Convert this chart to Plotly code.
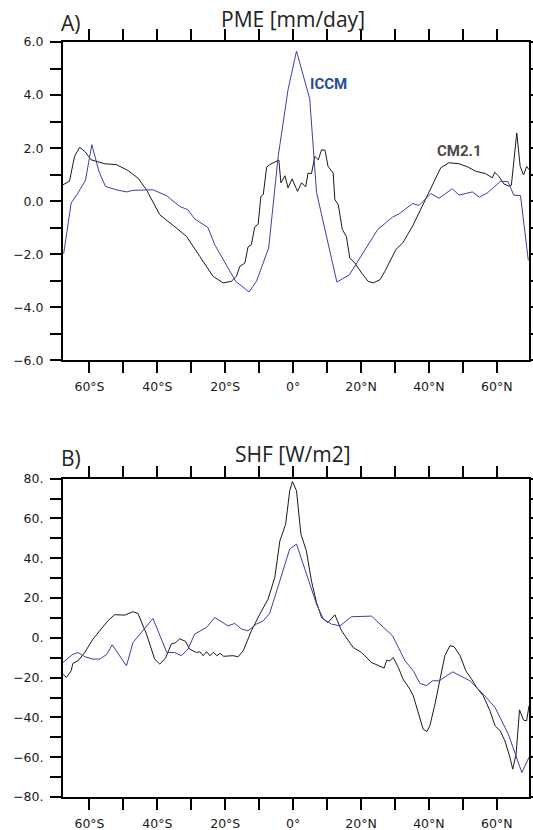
import plotly.graph_objects as go

# --- Panel A: precipitation minus evaporation (mm/day) ---
pme_iccm_lat = [-67.6, -65.4, -63.4, -61.2, -59.3, -57.2, -55.3, -52.1, -49.1, -47.2,
                -41.3, -37.3, -33.4, -31.0, -29.0, -25.1, -23.1, -19.6, -16.9, -13.0,
                -10.8, -7.2, -4.4, -1.5, 1.0, 4.9, 6.9, 12.9, 16.6, 24.9,
                29.3, 31.3, 35.2, 37.1, 40.6, 43.0, 46.9, 48.9, 52.8, 54.9,
                57.2, 61.1, 63.3, 65.0, 67.0, 69.3]
pme_iccm = [-1.98, -0.07, 0.31, 0.78, 2.13, 1.12, 0.56, 0.43, 0.35, 0.41,
            0.43, 0.21, -0.20, -0.32, -0.67, -0.99, -1.64, -2.39, -3.02, -3.42,
            -3.02, -1.76, 1.69, 4.20, 5.66, 3.85, 0.33, -3.05, -2.77, -1.07,
            -0.60, -0.47, -0.09, -0.16, 0.29, 0.11, 0.47, 0.23, 0.35, 0.15,
            0.31, 0.75, 0.74, 0.23, 0.21, -2.23]

pme_cm21_lat = [-67.8, -65.9, -64.4, -62.9, -61.4, -59.5, -55.5, -52.1, -48.7, -45.7,
                -43.2, -39.3, -34.4, -31.4, -27.5, -23.6, -20.6, -18.2, -16.7, -15.7,
                -14.2, -13.3, -12.3, -11.3, -10.3, -9.5, -8.8, -7.8, -6.9, -4.9,
                -4.2, -3.6, -2.4, -1.5, -0.3, 1.3, 2.5, 3.7, 4.4, 5.4,
                6.4, 7.4, 8.4, 9.4, 10.3, 11.8, 12.3, 13.3, 14.5, 15.7,
                16.7, 18.2, 20.2, 22.1, 23.6, 25.6, 27.0, 30.3, 32.3, 35.2,
                38.1, 41.1, 43.5, 45.9, 48.9, 51.3, 53.8, 56.7, 58.7, 59.4,
                60.6, 62.1, 63.5, 64.3, 65.9, 66.9, 67.9, 68.8, 69.5]
pme_cm21 = [0.62, 0.75, 1.69, 2.03, 1.88, 1.56, 1.41, 1.38, 1.16, 0.87,
            0.43, -0.51, -1.01, -1.33, -2.08, -2.83, -3.08, -3.02, -2.83, -2.46,
            -2.33, -1.73, -1.64, -0.97, -0.86, 0.18, 0.25, 1.28, 1.38, 1.50,
            1.55, 0.69, 0.96, 0.50, 0.84, 0.37, 0.69, 0.54, 1.06, 1.04,
            1.69, 1.56, 1.94, 1.92, 1.31, 1.06, 0.06, -0.13, -1.07, -1.33,
            -2.14, -2.33, -2.71, -3.02, -3.08, -2.96, -2.65, -1.82, -1.57, -0.94,
            -0.19, 0.63, 1.26, 1.45, 1.41, 1.30, 1.13, 1.04, 0.88, 1.09,
            0.94, 0.65, 0.57, 0.60, 2.57, 1.31, 0.99, 1.31, 1.19]

# --- Panel B: surface heat flux (W/m2) ---
shf_iccm_lat = [-67.8, -65.1, -63.4, -61.4, -59.0, -57.0, -55.0, -53.3, -49.1, -47.2,
                -41.3, -37.2, -34.9, -32.9, -31.0, -29.0, -25.5, -23.1, -19.2, -17.2,
                -15.2, -13.3, -10.8, -8.8, -6.9, -1.0, 1.0, 6.9, 8.9, 11.3,
                13.8, 17.2, 23.1, 29.3, 33.0, 35.4, 37.4, 39.4, 41.1, 43.1,
                47.0, 52.1, 56.0, 59.5, 63.4, 67.4, 69.5]
shf_iccm = [-12.4, -8.5, -7.4, -9.5, -10.7, -10.7, -8.5, -3.5, -14.1, -2.4,
            9.7, -7.4, -7.4, -9.0, -5.7, 1.9, 5.2, 10.2, 6.0, 7.2,
            4.4, 3.5, 6.9, 8.5, 12.3, 44.6, 47.1, 16.9, 9.4, 6.9,
            6.0, 10.6, 10.9, 1.0, -11.6, -16.6, -23.0, -24.0, -21.6, -21.6,
            -17.1, -21.6, -28.3, -35.0, -48.4, -67.7, -60.0]

shf_cm21_lat = [-67.8, -66.8, -65.4, -64.9, -63.4, -61.4, -59.0, -56.5, -54.6, -52.6,
                -49.6, -47.2, -45.7, -43.2, -40.8, -39.3, -37.6, -35.9, -34.6, -33.4,
                -32.2, -31.7, -30.5, -28.5, -27.5, -26.5, -25.5, -24.5, -23.5, -22.5,
                -21.5, -20.5, -17.7, -16.2, -14.7, -12.3, -9.8, -7.4, -5.4, -3.9,
                -2.2, -1.0, -0.2, 1.0, 2.3, 3.9, 5.4, 6.9, 8.4, 10.3,
                12.3, 14.3, 17.7, 20.2, 23.1, 25.6, 26.8, 27.6, 28.5, 29.5,
                31.0, 32.4, 34.4, 35.4, 36.9, 38.3, 39.4, 40.3, 41.8, 43.3,
                44.7, 46.2, 47.4, 49.2, 50.9, 52.6, 54.1, 56.0, 58.0, 59.5,
                61.0, 62.4, 63.9, 64.7, 65.7, 66.7, 67.9, 68.8, 69.5]
shf_cm21 = [-18.3, -20.0, -16.6, -12.9, -11.6, -7.4, -0.7, 4.4, 8.5, 11.6,
            11.4, 13.1, 12.2, 1.9, -10.7, -13.2, -10.2, -3.2, -2.4, -0.5,
            -1.5, -1.8, -5.7, -7.4, -7.0, -9.0, -7.0, -9.0, -7.2, -9.0,
            -7.8, -9.3, -9.0, -9.5, -6.5, 3.5, 11.9, 19.4, 30.3, 48.7,
            57.1, 73.9, 78.5, 73.9, 52.1, 43.7, 28.6, 17.7, 10.2, 7.7,
            11.6, 3.5, -4.9, -7.4, -12.4, -14.1, -15.2, -11.2, -11.6, -9.9,
            -14.9, -20.8, -25.8, -29.1, -38.3, -45.9, -47.1, -44.2, -33.3, -19.9,
            -9.0, -4.0, -4.4, -9.0, -16.6, -20.8, -25.0, -29.1, -36.7, -44.2,
            -46.7, -51.8, -60.2, -66.0, -58.5, -36.2, -41.4, -41.7, -34.2]

# --- Axis ticks ---
lat_ticks = [-60, -50, -40, -30, -20, -10, 0, 10, 20, 30, 40, 50, 60]
lat_labels = ["60°S", "", "40°S", "", "20°S", "", "0°", "", "20°N", "", "40°N", "", "60°N"]
pme_ticks = [-6, -5, -4, -3, -2, -1, 0, 1, 2, 3, 4, 5, 6]
pme_labels = ["\u22126.0", "", "\u22124.0", "", "\u22122.0", "", "0.0", "", "2.0", "", "4.0", "", "6.0"]
shf_ticks = [-80, -70, -60, -50, -40, -30, -20, -10, 0, 10, 20, 30, 40, 50, 60, 70, 80]
shf_labels = ["\u221280.", "", "\u221260.", "", "\u221240.", "", "\u221220.", "", "0.",
              "", "20.", "", "40.", "", "60.", "", "80."]

BLUE = "#3c3fa6"
BLACK = "#1a1a1a"
TICK_FONT = dict(family="DejaVu Sans", size=12.5, color="#1a1a1a")
TITLE_FONT = dict(family="Open Sans", size=21, color="#222222")

fig = go.Figure()
fig.add_trace(go.Scatter(x=pme_cm21_lat, y=pme_cm21, mode="lines",
                         line=dict(color=BLACK, width=1), xaxis="x", yaxis="y"))
fig.add_trace(go.Scatter(x=pme_iccm_lat, y=pme_iccm, mode="lines",
                         line=dict(color=BLUE, width=1), xaxis="x", yaxis="y"))
fig.add_trace(go.Scatter(x=shf_cm21_lat, y=shf_cm21, mode="lines",
                         line=dict(color=BLACK, width=1), xaxis="x2", yaxis="y2"))
fig.add_trace(go.Scatter(x=shf_iccm_lat, y=shf_iccm, mode="lines",
                         line=dict(color=BLUE, width=1), xaxis="x2", yaxis="y2"))

common_axis = dict(showline=True, linecolor="black", linewidth=2, mirror="ticks",
                   ticks="outside", ticklen=11, tickwidth=2, tickcolor="black",
                   showgrid=False, zeroline=False, tickfont=TICK_FONT, automargin=False)

x_common = dict(common_axis, range=[-67.8, 69.5], tickmode="array",
                tickvals=lat_ticks, ticktext=lat_labels, ticklabelstandoff=3)

y_common = dict(common_axis, tickmode="array", ticklabelstandoff=4)

H_PLOT = 755.0
top_dom = [1 - 318.4 / H_PLOT, 1.0]
bot_dom = [0.0, 318.4 / H_PLOT]

fig.update_layout(
    width=533, height=830,
    margin=dict(l=63, r=4, t=42, b=33, autoexpand=False),
    paper_bgcolor="white", plot_bgcolor="white",
    showlegend=False,
    xaxis=dict(x_common, domain=[0, 1], anchor="y"),
    yaxis=dict(y_common, domain=top_dom, range=[-6, 6],
               tickvals=pme_ticks, ticktext=pme_labels, anchor="x"),
    xaxis2=dict(x_common, domain=[0, 1], anchor="y2"),
    yaxis2=dict(y_common, domain=bot_dom, range=[-80, 80],
                tickvals=shf_ticks, ticktext=shf_labels, anchor="x2"),
)


def py(pixel_y):
    # paper coordinate for a pixel row of the page
    return (797.0 - pixel_y) / H_PLOT


annotations = [
    dict(text="A)", xref="paper", yref="paper", x=-0.009, y=py(23), xanchor="left",
         yanchor="middle", showarrow=False, font=TITLE_FONT),
    dict(text="PME [mm/day]", xref="x", yref="paper", x=0, y=py(19), xanchor="center",
         yanchor="middle", showarrow=False, font=TITLE_FONT),
    dict(text="B)", xref="paper", yref="paper", x=-0.009, y=py(458), xanchor="left",
         yanchor="middle", showarrow=False, font=TITLE_FONT),
    dict(text="SHF [W/m2]", xref="x2", yref="paper", x=0, y=py(454), xanchor="center",
         yanchor="middle", showarrow=False, font=TITLE_FONT),
    dict(text="<b>ICCM</b>", xref="x", yref="y", x=10.5, y=4.43, xanchor="center",
         yanchor="middle", showarrow=False,
         font=dict(family="Roboto", size=15, color="#1f4e9a")),
    dict(text="<b>CM2.1</b>", xref="x", yref="y", x=48.9, y=1.90, xanchor="center",
         yanchor="middle", showarrow=False,
         font=dict(family="Roboto", size=15, color="#4a4a4a")),
]
fig.update_layout(annotations=annotations)

fig.write_html("out.html")
